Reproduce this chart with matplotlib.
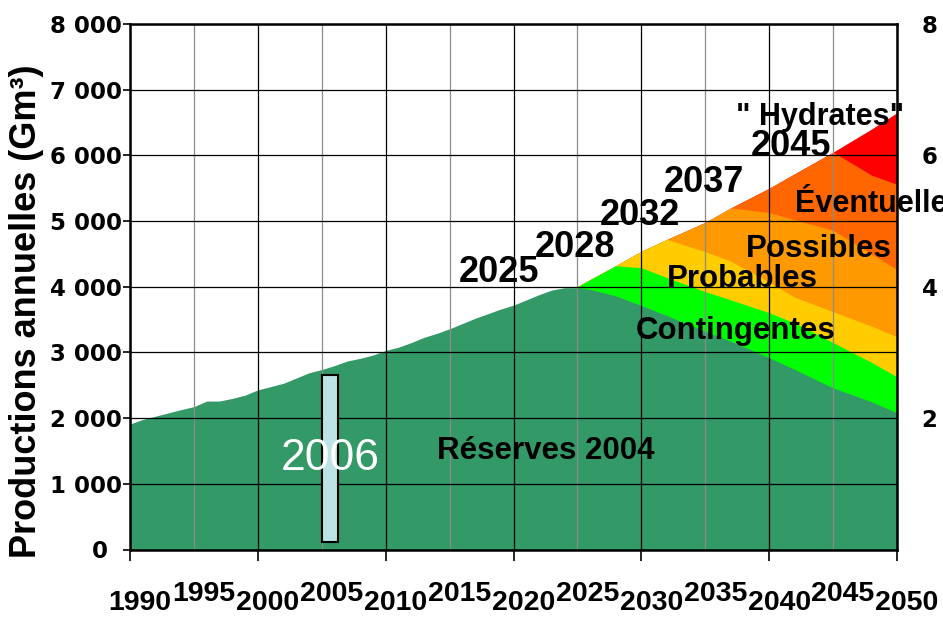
import matplotlib
matplotlib.use("Agg")
import matplotlib.pyplot as plt
from matplotlib.transforms import ScaledTranslation

# ---------------- data ----------------
years_hist = [1990, 1991, 1992, 1993, 1994, 1995, 1996, 1997, 1998, 1999,
              2000, 2001, 2002, 2003, 2004, 2005, 2006, 2007, 2008, 2009,
              2010, 2011, 2012, 2013, 2014, 2015, 2016, 2017, 2018, 2019,
              2020, 2021, 2022, 2023, 2024]
reserves_hist = [1910, 1980, 2030, 2080, 2130, 2175, 2260, 2260, 2300, 2350,
                 2430, 2480, 2530, 2610, 2690, 2740, 2800, 2870, 2910, 2960,
                 3030, 3080, 3150, 3230, 3290, 3360, 3440, 3520, 3590, 3660,
                 3720, 3800, 3880, 3950, 3985]

years_proj = [2025, 2026, 2028, 2030, 2032, 2035, 2037, 2040, 2042, 2045, 2048, 2050]
reserves_proj = [3985, 3960, 3860, 3715, 3560, 3320, 3170, 2920, 2740, 2460, 2250, 2080]
contingentes_top = [4000, 4110, 4320, 4290, 4140, 3925, 3800, 3605, 3450, 3150, 2850, 2630]
probables_top = [4000, 4110, 4320, 4540, 4720, 4535, 4390, 4070, 3840, 3620, 3400, 3240]
possibles_top = [4000, 4110, 4320, 4540, 4720, 4980, 5200, 5130, 5020, 4860, 4500, 4260]
eventuelles_top = [4000, 4110, 4320, 4540, 4720, 4980, 5200, 5500, 5720, 6050, 5700, 5560]
hydrates_top = [4000, 4110, 4320, 4540, 4720, 4980, 5200, 5500, 5720, 6050, 6400, 6650]

peak_labels = ["2025", "2028", "2032", "2037", "2045"]
peak_label_pos = [(2018.9, 4215), (2024.8, 4596), (2029.9, 5084), (2034.9, 5587), (2041.7, 6136)]

x_major = [1990, 2000, 2010, 2020, 2030, 2040, 2050]
x_minor = [1995, 2005, 2015, 2025, 2035, 2045]
y_ticks = [0, 1000, 2000, 3000, 4000, 5000, 6000, 7000, 8000]
y_ticks_right = [2000, 4000, 6000, 8000]

# ---------------- figure ----------------
ARIAL = "Liberation Sans"
fig = plt.figure(figsize=(9.43, 6.2), dpi=100)
ax = fig.add_axes([130 / 943, 1 - 549.5 / 620, 767 / 943, 525.5 / 620])
ax.set_xlim(1990, 2050)
ax.set_ylim(0, 8000)

years_all = years_hist + years_proj
reserves_all = reserves_hist + reserves_proj

c_res = "#339966"
c_cont = "#00ff00"
c_prob = "#ffcc00"
c_poss = "#ff9900"
c_even = "#ff6600"
c_hyd = "#ff0000"

# draw cumulative layers from the top-most down so no seams appear
layers = [(hydrates_top, c_hyd),
          (eventuelles_top, c_even),
          (possibles_top, c_poss),
          (probables_top, c_prob),
          (contingentes_top, c_cont)]
for top, c in layers:
    ax.fill_between(years_proj, 0, top, color=c, lw=0, zorder=1)
ax.fill_between(years_all, 0, reserves_all, color=c_res, lw=0, zorder=1)

# grid
ax.set_axisbelow(False)
ax.set_xticks(x_major, labels=[str(v) for v in x_major])
ax.set_xticks(x_minor, labels=[str(v) for v in x_minor], minor=True)
ax.grid(which="major", axis="x", color="black", lw=0.9)
ax.grid(which="minor", axis="x", color="#8c8c8c", lw=0.9)
ax.set_yticks(y_ticks, labels=[f"{v:,}".replace(",", " ") for v in y_ticks])
ax.grid(which="major", axis="y", color="black", lw=0.9)

ax.tick_params(axis="x", which="major", length=8, width=1.2, pad=21, labelsize=20.5, color="black")
ax.tick_params(axis="x", which="minor", length=0, pad=23, labelsize=20.5)
ax.tick_params(axis="y", which="major", length=5, width=1.2, pad=1, labelsize=16.5)

offset = ScaledTranslation(10 / 100, 0, fig.dpi_scale_trans)
for lab in ax.get_xticklabels(which="both"):
    lab.set_fontfamily(ARIAL)
    lab.set_fontweight("bold")
    lab.set_transform(lab.get_transform() + offset)
for lab in ax.get_yticklabels():
    lab.set_fontfamily("DejaVu Sans")
    lab.set_fontweight("bold")
ylabs = ax.get_yticklabels()
ylabs[0].set_transform(ylabs[0].get_transform() + ScaledTranslation(-14 / 100, 0, fig.dpi_scale_trans))

for sp in ax.spines.values():
    sp.set_linewidth(1.8)
    sp.set_color("black")
    sp.set_zorder(5)

# right axis (clipped labels)
ax2 = ax.twinx()
ax2.set_ylim(0, 8000)
ax2.set_yticks(y_ticks_right, labels=[f"{v:,}".replace(",", " ") for v in y_ticks_right])
ax2.tick_params(axis="y", length=0, pad=18, labelsize=16.5)
for lab in ax2.get_yticklabels():
    lab.set_fontfamily("DejaVu Sans")
    lab.set_fontweight("bold")
for sp in ax2.spines.values():
    sp.set_visible(False)

# 2006 bar
ax.bar(2005, 2660 - 115, width=1.25, bottom=115, align="edge",
       color="#bde3e6", edgecolor="black", lw=1.5, zorder=3)
ax.text(2005.65, 1380, "2006", color="white", fontsize=32, family=ARIAL,
        ha="center", va="center", zorder=4)

# peak year labels
for t, (xx, yy) in zip(peak_labels, peak_label_pos):
    ax.text(xx, yy, t, fontsize=26, fontweight="bold", family=ARIAL,
            ha="center", va="center", zorder=4)

# category labels
ax.text(2044.0, 6577, '" Hydrates"', fontsize=22, fontweight="bold", family=ARIAL,
        ha="center", va="center", zorder=4)
ax.text(2042.0, 5266, "Éventuelles", fontsize=22, fontweight="bold", family=ARIAL,
        ha="left", va="center", zorder=4)
ax.text(2043.9, 4581, "Possibles", fontsize=22.5, fontweight="bold", family=ARIAL,
        ha="center", va="center", zorder=4)
ax.text(2037.9, 4124, "Probables", fontsize=22.5, fontweight="bold", family=ARIAL,
        ha="center", va="center", zorder=4)
ax.text(2037.4, 3331, "Contingentes", fontsize=22.5, fontweight="bold", family=ARIAL,
        ha="center", va="center", zorder=4)
ax.text(2022.5, 1501, "Réserves 2004", fontsize=22.5, fontweight="bold", family=ARIAL,
        ha="center", va="center", zorder=4)

fig.text(27 / 943, 1 - 311 / 620, "Productions annuelles (Gm³)", rotation=90,
         ha="center", va="center", fontsize=26, fontweight="bold", family=ARIAL)

fig.savefig("out.png", dpi=100)
